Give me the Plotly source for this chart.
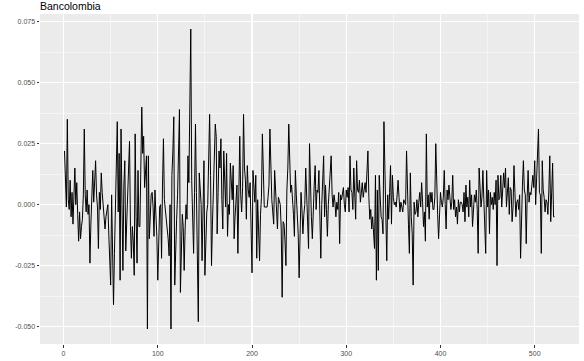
import plotly.graph_objects as go

title_text = "Bancolombia"

returns = [
    0.022, 0.006, -0.001, 0.035, 0.002, -0.002, 0.010, -0.005, 0.005, -0.008,
    0.002, 0.015, 0.000, 0.009, -0.004, -0.015, -0.003, -0.014, -0.009, -0.006,
    0.004, 0.031, 0.004, -0.003, 0.006, -0.004, 0.000, -0.024, -0.008, 0.005,
    0.014, 0.001, 0.010, 0.018, 0.004, -0.001, -0.018, 0.005, -0.002, 0.013,
    0.005, 0.001, -0.006, -0.010, -0.005, -0.003, 0.000, -0.012, -0.020, -0.033,
    0.004, -0.030, -0.041, -0.020, 0.000, 0.012, 0.034, -0.003, 0.021, -0.031,
    0.031, 0.000, -0.027, 0.008, 0.018, -0.019, -0.005, 0.005, 0.012, 0.026,
    -0.009, -0.022, -0.009, -0.015, -0.029, 0.029, -0.005, -0.024, 0.014, -0.009,
    -0.009, 0.010, 0.040, 0.021, 0.028, 0.007, 0.012, 0.020, -0.051, 0.020,
    -0.014, -0.002, 0.004, 0.005, -0.001, -0.013, 0.006, -0.004, -0.013, -0.031,
    -0.010, -0.001, 0.000, -0.022, 0.008, 0.027, 0.002, -0.002, -0.005, -0.009,
    -0.014, -0.021, 0.000, -0.051, 0.012, 0.022, 0.036, -0.033, -0.015, -0.006,
    0.004, 0.018, 0.039, -0.036, -0.016, -0.004, -0.009, -0.027, -0.010, 0.000,
    -0.006, 0.020, 0.009, 0.040, 0.072, 0.010, -0.001, -0.020, 0.005, 0.033,
    0.005, -0.015, -0.048, 0.013, 0.004, 0.000, -0.023, 0.002, 0.018, -0.029,
    -0.010, -0.003, 0.000, 0.015, 0.037, 0.012, -0.025, -0.008, 0.004, 0.015,
    0.033, 0.028, -0.012, 0.005, 0.022, 0.015, 0.027, 0.002, -0.010, 0.022,
    0.005, -0.001, 0.021, -0.013, 0.000, -0.004, 0.017, 0.006, 0.002, 0.016,
    -0.014, -0.005, 0.003, 0.008, -0.020, 0.010, 0.028, 0.004, -0.003, 0.007,
    0.037, 0.015, 0.010, -0.006, 0.016, 0.006, 0.003, 0.009, -0.010, -0.028,
    0.014, 0.006, 0.001, 0.012, -0.022, 0.002, -0.008, -0.023, -0.004, 0.003,
    0.029, 0.012, -0.001, -0.001, -0.001, -0.001, 0.003, 0.008, 0.031, 0.008,
    0.002, -0.003, -0.008, 0.014, 0.006, 0.004, -0.010, 0.003, 0.001, 0.000,
    -0.010, -0.038, -0.007, -0.008, -0.015, -0.025, 0.006, 0.015, 0.033, 0.010,
    0.005, 0.008, 0.003, -0.004, -0.013, 0.014, 0.004, -0.003, -0.012, -0.030,
    -0.005, 0.005, -0.002, -0.012, -0.004, 0.000, 0.015, 0.003, -0.006, -0.018,
    0.025, 0.002, -0.005, -0.014, 0.003, 0.008, 0.016, -0.002, 0.006, 0.005,
    0.014, -0.004, -0.022, 0.000, 0.008, 0.020, -0.005, 0.008, -0.002, -0.013,
    0.000, 0.006, 0.014, 0.020, 0.004, -0.001, 0.004, 0.001, -0.005, 0.001,
    -0.002, 0.005, -0.016, 0.004, 0.002, 0.005, 0.007, 0.000, -0.003, 0.006,
    0.003, 0.007, -0.003, 0.020, 0.006, 0.005, -0.002, 0.015, 0.004, -0.006,
    0.018, 0.006, 0.005, 0.010, 0.001, 0.006, 0.009, 0.003, 0.006, 0.009,
    0.005, 0.012, 0.022, 0.003, -0.006, -0.002, -0.010, -0.005, -0.010, -0.018,
    0.012, -0.031, 0.006, -0.027, 0.012, 0.004, -0.005, -0.006, -0.012, 0.034,
    0.015, 0.000, -0.023, 0.004, -0.006, 0.005, 0.016, -0.008, 0.012, 0.003,
    0.000, 0.001, -0.001, 0.004, 0.010, 0.003, -0.003, 0.001, -0.001, -0.003,
    0.002, 0.001, 0.000, 0.022, -0.001, -0.008, -0.020, 0.013, -0.005, -0.012,
    -0.033, 0.001, -0.004, -0.003, 0.002, -0.005, 0.001, 0.005, -0.001, 0.009,
    0.001, -0.009, -0.003, -0.015, 0.029, -0.001, 0.004, -0.006, 0.005, 0.001,
    0.005, -0.002, -0.002, 0.003, 0.025, 0.001, -0.004, -0.014, 0.000, 0.005,
    0.001, -0.001, 0.003, 0.014, 0.000, -0.010, 0.006, 0.002, 0.008, 0.003,
    -0.002, 0.001, 0.012, -0.002, 0.002, -0.005, -0.001, -0.008, 0.002, -0.003,
    0.001, 0.001, 0.000, -0.003, 0.005, -0.007, 0.008, -0.001, 0.003, -0.005,
    0.010, -0.001, 0.004, -0.009, -0.002, 0.004, 0.001, 0.006, -0.002, -0.020,
    0.015, 0.005, -0.001, 0.003, 0.014, 0.002, -0.008, -0.020, 0.014, -0.001,
    0.006, -0.012, 0.005, 0.000, 0.003, -0.002, 0.005, 0.000, 0.010, -0.025,
    0.012, 0.002, 0.003, 0.012, -0.001, 0.006, 0.013, 0.007, 0.015, -0.001,
    0.005, 0.011, -0.004, 0.007, 0.006, -0.007, -0.001, 0.016, 0.005, -0.005,
    0.001, 0.002, -0.002, 0.004, -0.022, 0.002, 0.008, 0.018, 0.006, 0.004,
    -0.016, 0.003, 0.014, 0.001, 0.005, 0.004, 0.008, 0.012, 0.007, 0.018,
    0.000, 0.010, 0.014, 0.031, 0.005, 0.004, -0.020, 0.018, 0.006, 0.003,
    -0.003, 0.002, 0.001, -0.004, 0.006, 0.020, -0.007, 0.004, 0.017, -0.005,
    -0.005,
]
index = list(range(1, len(returns) + 1))

x_ticks = [0, 100, 200, 300, 400, 500]
x_tick_labels = ["0", "100", "200", "300", "400", "500"]
y_ticks = [-0.050, -0.025, 0.000, 0.025, 0.050, 0.075]
y_tick_labels = ["-0.050", "-0.025", "0.000", "0.025", "0.050", "0.075"]

n = len(returns)
x_pad = 0.05 * (n - 1)
y_lo, y_hi = min(returns), max(returns)
y_pad = 0.05 * (y_hi - y_lo)

FONT = "Liberation Sans, Arial, sans-serif"

fig = go.Figure()
fig.add_trace(go.Scatter(
    x=index, y=returns, mode="lines",
    line=dict(color="black", width=1),
    showlegend=False, hoverinfo="skip",
))

axis_common = dict(
    showline=False, zeroline=False, automargin=False,
    showgrid=True, gridcolor="white", gridwidth=1.1,
    ticks="outside", ticklen=2.5, tickwidth=1, tickcolor="#333333",
    tickfont=dict(family=FONT, size=7, color="#4D4D4D"),
)

fig.update_layout(
    width=584, height=361,
    margin=dict(l=40, r=5, t=14, b=17, autoexpand=False),
    paper_bgcolor="white", plot_bgcolor="#EBEBEB",
    title=dict(text=title_text, x=40 / 584, xref="container", xanchor="left",
               y=1 - 6.5 / 361, yref="container", yanchor="middle", automargin=False,
               font=dict(family=FONT, size=10.5, color="black")),
    xaxis=dict(range=[1 - x_pad, n + x_pad], tickvals=x_ticks, ticktext=x_tick_labels,
               minor=dict(dtick=50, tick0=50, showgrid=True, gridcolor="white", gridwidth=0.5, ticks=""),
               **axis_common),
    yaxis=dict(range=[y_lo - y_pad, y_hi + y_pad], tickvals=y_ticks, ticktext=y_tick_labels,
               minor=dict(dtick=0.0125, tick0=0.0125, showgrid=True, gridcolor="white", gridwidth=0.5, ticks=""),
               **axis_common),
)

fig.write_html(
    "out.html",
    config={"displayModeBar": False, "staticPlot": True},
    post_script="document.body.style.margin='0';document.body.style.padding='0';",
)
